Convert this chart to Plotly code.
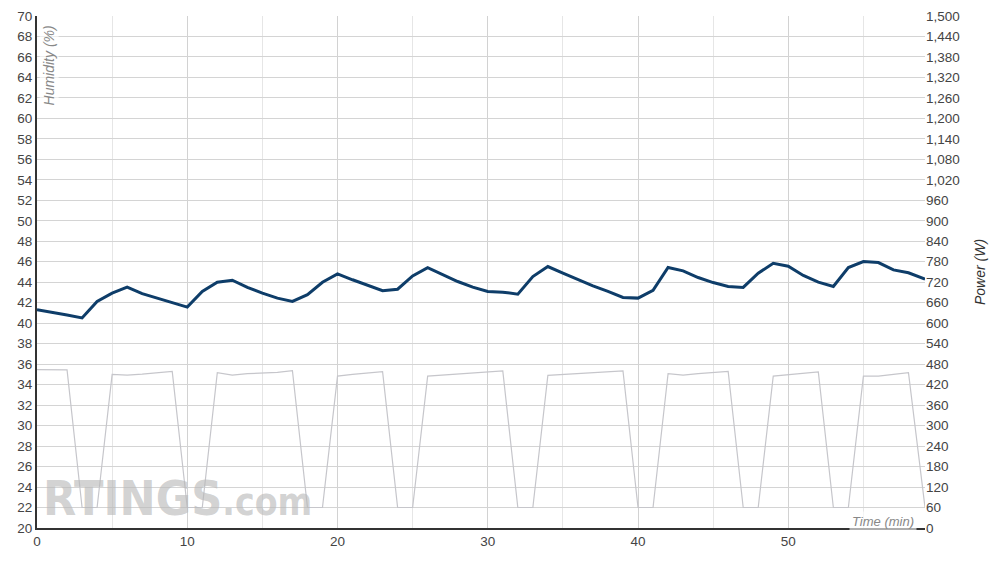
import plotly.graph_objects as go

time_min = list(range(0, 59)) + [59.1]

humidity = [41.32, 41.09, 40.8, 40.51, 42.13, 42.94, 43.52, 42.88, 42.45, 41.96,
            41.57, 43.1, 44.0, 44.2, 43.49, 42.94, 42.45, 42.13, 42.78, 44.0,
            44.82, 44.24, 43.68, 43.17, 43.32, 44.62, 45.43, 44.72, 44.07, 43.52,
            43.1, 43.03, 42.84, 44.56, 45.53, 44.88, 44.24, 43.65, 43.1, 42.52,
            42.45, 43.2, 45.44, 45.11, 44.46, 43.97, 43.59, 43.49, 44.88, 45.85,
            45.56, 44.66, 44.01, 43.59, 45.44, 46.02, 45.92, 45.21, 44.92, 44.3]

power = [464, 464, 463, 60, 60, 450, 448, 451, 455, 459,
         60, 60, 455, 448, 452, 454, 456, 461, 60, 60,
         445, 450, 454, 458, 60, 60, 445, 448, 452, 455,
         458, 460, 60, 60, 447, 450, 453, 455, 458, 460,
         60, 60, 452, 448, 452, 455, 459, 60, 60, 445,
         449, 453, 457, 60, 60, 445, 445, 450, 455, 60]

x_ticks = [0, 10, 20, 30, 40, 50]
hum_ticks = list(range(20, 71, 2))
pow_ticks = list(range(0, 1501, 60))

fig = go.Figure()
fig.add_trace(go.Scatter(x=time_min, y=power, yaxis="y2", mode="lines",
                         line=dict(color="#c6c6cb", width=1.2), name="Power",
                         showlegend=False))
fig.add_trace(go.Scatter(x=time_min, y=humidity, mode="lines",
                         line=dict(color="#0e3d69", width=3), name="Humidity",
                         showlegend=False))

tick_font = dict(family="Liberation Sans, Arial, sans-serif", size=13.5, color="#444")

fig.update_layout(
    width=1000, height=572,
    margin=dict(l=29, r=83, t=8, b=52, autoexpand=False),
    paper_bgcolor="white", plot_bgcolor="white",
    xaxis=dict(range=[0, 59.1], tickvals=x_ticks, ticks="", showgrid=True,
               gridcolor="#d2d2d2", gridwidth=1, automargin=False,
               minor=dict(dtick=5, showgrid=True, gridcolor="#e6e6e6", gridwidth=1),
               showline=True, linecolor="#333", linewidth=2,
               tickfont=tick_font, zeroline=False, ticklabeloverflow="allow"),
    yaxis=dict(range=[20, 70], tickvals=hum_ticks, showgrid=True, automargin=False,
               gridcolor="#d4d4d4", gridwidth=1, showline=True, linecolor="#333",
               linewidth=2, tickfont=tick_font, zeroline=False, ticks="",
               ticklabeloverflow="allow"),
    yaxis2=dict(range=[0, 1500], tickvals=pow_ticks, overlaying="y", side="right",
                showgrid=False, tickfont=tick_font, zeroline=False, automargin=False,
                tickformat=",d", showline=False, ticks="", ticklabeloverflow="allow"),
)

fig.add_annotation(text="Humidity (%)", xref="paper", yref="paper", x=0.002, y=0.985,
                   xanchor="left", yanchor="top", textangle=-90, showarrow=False,
                   font=dict(family="Liberation Sans, Arial, sans-serif", size=14,
                             color="#888", style="italic"),
                   bgcolor="rgba(255,255,255,0.6)", borderpad=1)
fig.add_annotation(text="Power (W)", xref="paper", yref="paper", x=1.062, y=0.5,
                   xanchor="center", yanchor="middle", textangle=-90, showarrow=False,
                   font=dict(family="Liberation Sans, Arial, sans-serif", size=14,
                             color="#333", style="italic"))
fig.add_annotation(text="Time (min)", xref="paper", yref="paper", x=0.991, y=0,
                   xanchor="right", yanchor="bottom", yshift=-4, showarrow=False,
                   font=dict(family="Liberation Sans, Arial, sans-serif", size=13,
                             color="#888", style="italic"),
                   bgcolor="rgba(255,255,255,0.6)", borderpad=2)
fig.add_annotation(text="RTINGS<span style='font-size:37px'>.com</span>",
                   xref="paper", yref="paper", x=0.004, y=0.0,
                   xanchor="left", yanchor="bottom", showarrow=False,
                   font=dict(family="DejaVu Sans Condensed, Liberation Sans Narrow, sans-serif",
                             size=48, color="rgba(185,185,185,0.65)", weight="bold"))

fig.write_html("out.html")
